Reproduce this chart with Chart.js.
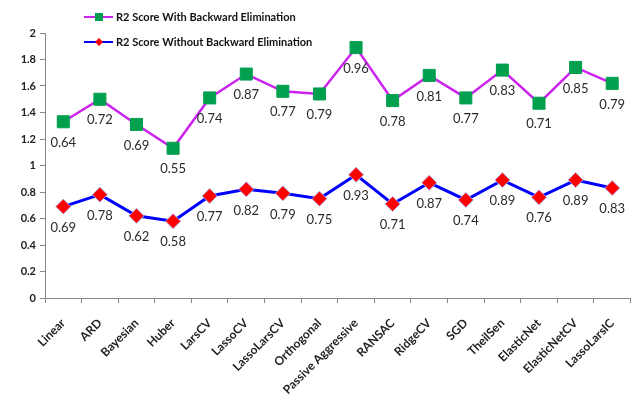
<!DOCTYPE html>
<html>
<head>
<meta charset="utf-8">
<script src="https://cdn.jsdelivr.net/npm/chart.js@4"></script>
<style>
  html, body { margin: 0; padding: 0; background: #fff; overflow: hidden; }
  #wrap { position: relative; width: 640px; height: 394px; }
</style>
</head>
<body>
<div id="wrap"><canvas id="r2Chart"></canvas></div>
<script>
const models = ["Linear", "ARD", "Bayesian", "Huber", "LarsCV", "LassoCV", "LassoLarsCV",
  "Orthogonal", "Passive Aggressive", "RANSAC", "RidgeCV", "SGD", "TheilSen",
  "ElasticNet", "ElasticNetCV", "LassoLarsIC"];

const withoutBE = [0.69, 0.78, 0.62, 0.58, 0.77, 0.82, 0.79, 0.75, 0.93, 0.71, 0.87, 0.74, 0.89, 0.76, 0.89, 0.83];
const withBE = [0.64, 0.72, 0.69, 0.55, 0.74, 0.87, 0.77, 0.79, 0.96, 0.78, 0.81, 0.77, 0.83, 0.71, 0.85, 0.79];

const seriesNames = ["R2 Score Without Backward Elimination", "R2 Score With Backward Elimination"];

const yMin = 0, yMax = 2, yStep = 0.2;

const FONT = "Lato, 'Open Sans', sans-serif";

// value labels under every marker
const valueLabels = {
  id: "valueLabels",
  afterDatasetsDraw(chart) {
    const ctx = chart.ctx;
    ctx.save();
    ctx.font = "13px " + FONT;
    ctx.fillStyle = "#2a2a2a";
    ctx.textAlign = "center";
    ctx.textBaseline = "middle";
    chart.data.datasets.forEach((ds, i) => {
      const meta = chart.getDatasetMeta(i);
      meta.data.forEach((pt, j) => {
        ctx.fillText(ds.data[j].toFixed(2), pt.x, pt.y + 21);
      });
    });
    ctx.restore();
  }
};

// excel-style legend: line with marker, one entry per row
const lineLegend = {
  id: "lineLegend",
  afterDraw(chart) {
    const ctx = chart.ctx;
    const rows = [
      { ds: chart.data.datasets[1], y: 17 },
      { ds: chart.data.datasets[0], y: 42 }
    ];
    ctx.save();
    rows.forEach(r => {
      ctx.strokeStyle = r.ds.borderColor;
      ctx.lineWidth = 2;
      ctx.beginPath();
      ctx.moveTo(84, r.y);
      ctx.lineTo(113, r.y);
      ctx.stroke();
      ctx.fillStyle = r.ds.pointBackgroundColor;
      if (r.ds.pointStyle === "rect") {
        ctx.fillRect(95, r.y - 4, 8, 8);
      } else {
        ctx.beginPath();
        ctx.moveTo(99, r.y - 4);
        ctx.lineTo(103, r.y);
        ctx.lineTo(99, r.y + 4);
        ctx.lineTo(95, r.y);
        ctx.closePath();
        ctx.fill();
      }
      ctx.fillStyle = "#111";
      ctx.font = "bold 11px " + FONT;
      ctx.textAlign = "left";
      ctx.textBaseline = "middle";
      ctx.fillText(r.ds.label, 116, r.y);
    });
    ctx.restore();
  }
};

new Chart(document.getElementById("r2Chart"), {
  type: "line",
  data: {
    labels: models,
    datasets: [
      {
        label: seriesNames[0],
        data: withoutBE,
        borderColor: "#0000FF",
        borderWidth: 3,
        pointStyle: "rectRot",
        pointRadius: 7.5,
        pointBackgroundColor: "#FF0000",
        pointBorderColor: "rgba(170,170,230,0.9)",
        pointBorderWidth: 1,
        fill: false,
        tension: 0
      },
      {
        label: seriesNames[1],
        data: withBE,
        borderColor: "#CC22EE",
        borderWidth: 2.5,
        pointStyle: "rect",
        pointRadius: 8.5,
        pointBackgroundColor: "#00A04E",
        pointBorderColor: "#00A04E",
        pointBorderWidth: 1,
        fill: false,
        tension: 0
      }
    ]
  },
  options: {
    responsive: true,
    maintainAspectRatio: false,
    animation: false,
    layout: { padding: { top: 33, right: 2, bottom: 0, left: 0 } },
    plugins: {
      legend: { display: false },
      tooltip: { enabled: false }
    },
    scales: {
      x: {
        offset: true,
        grid: { offset: true, drawOnChartArea: false, drawTicks: true, tickLength: 5, color: "#888" },
        border: { display: true, color: "#888", width: 1 },
        ticks: {
          autoSkip: false,
          minRotation: 45,
          maxRotation: 45,
          padding: 13,
          color: "#222",
          font: { family: FONT, size: 12, weight: "bold" }
        },
        afterFit(scale) {
          scale.height = 96;
          scale.paddingLeft = 0;
          scale.paddingRight = 0;
        }
      },
      y: {
        stacked: true,
        min: yMin,
        max: yMax,
        grid: { drawOnChartArea: false, drawTicks: true, tickLength: 5, color: "#888" },
        border: { display: true, color: "#888", width: 1 },
        ticks: {
          stepSize: yStep,
          padding: 4,
          color: "#222",
          font: { family: FONT, size: 11, weight: "bold" },
          callback: v => String(Number(v.toFixed(1)))
        },
        afterFit(scale) {
          scale.width = 45;
          scale.paddingTop = 0;
          scale.paddingBottom = 0;
        }
      }
    }
  },
  plugins: [valueLabels, lineLegend]
});
</script>
</body>
</html>
